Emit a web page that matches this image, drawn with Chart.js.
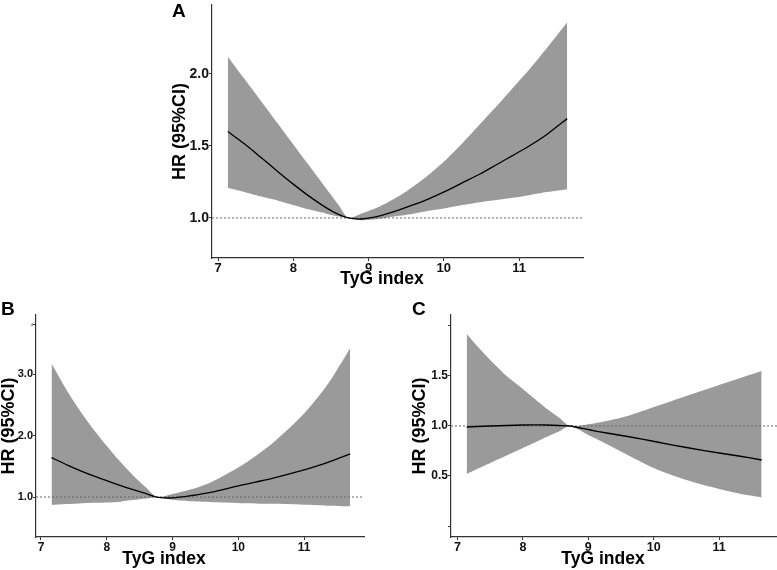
<!DOCTYPE html>
<html><head><meta charset="utf-8">
<script src="https://cdn.jsdelivr.net/npm/chart.js@4.4.1/dist/chart.umd.min.js"></script>
<style>
body{margin:0;background:#fff;width:777px;height:570px;position:relative;overflow:hidden;font-family:"Liberation Sans",Arial,sans-serif;}
canvas{position:absolute;}
.t{position:absolute;font-weight:bold;color:#000;white-space:nowrap;font-family:"Liberation Sans",Arial,sans-serif;}
.xt{font-size:17.5px;line-height:17px;transform:translateX(-50%);}
.pl{font-size:19px;line-height:19px;}
</style></head><body>
<canvas id="cA" width="450" height="305" style="left:150px;top:-10px"></canvas>
<canvas id="cB" width="390" height="280" style="left:0px;top:290px"></canvas>
<canvas id="cC" width="387" height="280" style="left:390px;top:290px"></canvas>
<div class="t pl" style="left:172px;top:1px">A</div>
<div class="t pl" style="left:1px;top:299px">B</div>
<div class="t pl" style="left:412px;top:299px">C</div>
<div class="t xt" style="left:382px;top:270px">TyG index</div>
<div class="t xt" style="left:164px;top:550px">TyG index</div>
<div class="t xt" style="left:603px;top:550px">TyG index</div>
<script>
// ---- data ----
const xTicks = [7, 8, 9, 10, 11];
const xTickLabels = ['7', '8', '9', '10', '11'];
const refHR = 1.0;
const yTitle = 'HR (95%CI)';
const xTitle = 'TyG index';

// Panel A
const aX     = [7.13, 7.35, 7.56, 7.8, 8.0, 8.2, 8.44, 8.6, 8.73, 8.9, 9.15, 9.4, 9.6, 9.8, 10.04, 10.25, 10.48, 10.7, 10.92, 11.15, 11.37, 11.64];
const aHR    = [1.60, 1.515, 1.425, 1.32, 1.235, 1.155, 1.07, 1.025, 1.00, 0.993, 1.015, 1.055, 1.092, 1.133, 1.19, 1.245, 1.305, 1.37, 1.435, 1.505, 1.58, 1.69];
const aUpper = [2.12, 1.966, 1.819, 1.651, 1.511, 1.371, 1.203, 1.091, 1.00, 1.03, 1.08, 1.15, 1.22, 1.30, 1.41, 1.52, 1.65, 1.775, 1.905, 2.04, 2.18, 2.36];
const aLower = [1.21, 1.18, 1.15, 1.12, 1.09, 1.06, 1.03, 1.01, 1.00, 0.985, 0.995, 1.015, 1.03, 1.05, 1.07, 1.09, 1.11, 1.125, 1.14, 1.16, 1.18, 1.20];
const aYTicks = [1.0, 1.5, 2.0];
const aYTickLabels = ['1.0', '1.5', '2.0'];
const aXRange = [6.92, 11.85];
const aYRange = [0.722, 2.479];

// Panel B
const bX     = [7.16, 7.4, 7.64, 7.82, 8.0, 8.2, 8.4, 8.6, 8.76, 9.0, 9.3, 9.6, 10.03, 10.5, 11.0, 11.35, 11.7];
const bHR    = [1.64, 1.52, 1.41, 1.335, 1.265, 1.19, 1.12, 1.055, 1.00, 0.985, 1.025, 1.08, 1.19, 1.30, 1.44, 1.56, 1.70];
const bUpper = [3.17, 2.72, 2.33, 2.07, 1.83, 1.58, 1.35, 1.15, 1.00, 1.05, 1.13, 1.25, 1.50, 1.86, 2.36, 2.82, 3.42];
const bLower = [0.87, 0.885, 0.90, 0.905, 0.91, 0.925, 0.95, 0.975, 1.00, 0.955, 0.93, 0.915, 0.90, 0.89, 0.875, 0.86, 0.85];
const bYTicks = [1.0, 2.0, 3.0, 3.8];
const bYTickLabels = ['1.0', '2.0', '3.0', '4'];
const bXRange = [6.924, 11.91];
const bYRange = [0.35, 3.96];

// Panel C
const cX     = [7.14, 7.3, 7.5, 7.75, 8.0, 8.2, 8.36, 8.55, 8.72, 9.03, 9.28, 9.6, 10.05, 10.5, 11.0, 11.3, 11.65];
const cHR    = [0.99, 0.995, 1.00, 1.005, 1.01, 1.012, 1.01, 1.005, 1.00, 0.96, 0.93, 0.895, 0.84, 0.785, 0.73, 0.70, 0.66];
const cUpper = [1.92, 1.80, 1.66, 1.50, 1.37, 1.26, 1.175, 1.085, 1.00, 1.02, 1.05, 1.10, 1.20, 1.30, 1.41, 1.475, 1.55];
const cLower = [0.52, 0.57, 0.63, 0.705, 0.78, 0.84, 0.89, 0.945, 1.00, 0.90, 0.82, 0.71, 0.565, 0.46, 0.37, 0.325, 0.285];
const cYTicks = [0.0, 0.5, 1.0, 1.5, 2.0];
const cYTickLabels = ['', '0.5', '1.0', '1.5', ''];
const cXRange = [6.90, 11.885];
const cYRange = [-0.11, 2.11];

// ---- drawing ----
const FONT = '"Liberation Sans", Arial, sans-serif';
const pts = (xs, ys) => xs.map((x, i) => ({x: x, y: ys[i]}));

function makePanel(id, p) {
  const xFont = {family: FONT, size: p.xf, weight: 'bold'};
  const yFont = {family: FONT, size: p.yf, weight: 'bold'};
  new Chart(document.getElementById(id), {
    type: 'line',
    data: {
      datasets: [
        {data: pts(p.x, p.hr), borderColor: '#000', borderWidth: 1.3, pointRadius: 0, fill: false, tension: 0.25, order: 0},
        {data: [{x: p.xr[0], y: refHR}, {x: p.xr[1], y: refHR}], borderColor: '#666', borderWidth: 1, borderDash: [2, 2], pointRadius: 0, fill: false, order: 1},
        {data: pts(p.x, p.lo), borderWidth: 0, borderColor: 'rgba(0,0,0,0)', pointRadius: 0, fill: false, tension: 0.25, order: 2},
        {data: pts(p.x, p.up), borderWidth: 0, borderColor: 'rgba(0,0,0,0)', backgroundColor: '#9a9a9a', pointRadius: 0, fill: '-1', tension: 0.25, order: 3}
      ]
    },
    options: {
      responsive: false, animation: false, devicePixelRatio: 1,
      layout: {padding: p.pad},
      plugins: {legend: {display: false}, tooltip: {enabled: false}, filler: {propagate: false}},
      scales: {
        x: {
          type: 'linear', min: p.xr[0], max: p.xr[1],
          afterBuildTicks: s => { s.ticks = xTicks.map(v => ({value: v})); },
          afterFit: s => { s.height = p.xh; },
          ticks: {padding: 0, color: '#111', font: xFont, maxRotation: 0, autoSkip: false,
                  callback: (v, i) => xTickLabels[i]},
          grid: {display: true, drawOnChartArea: false, drawTicks: true, tickLength: 3, color: '#333'},
          border: {display: true, color: '#333', width: 1.2},
          title: {display: false, text: xTitle}
        },
        y: {
          type: 'linear', min: p.yr[0], max: p.yr[1],
          afterBuildTicks: s => { s.ticks = p.yt.map(v => ({value: v})); },
          afterFit: s => { s.width = p.yw; },
          ticks: {padding: 0, color: '#111', autoSkip: false,
                  font: ctx => (ctx.tick && p.tiny && ctx.tick.value === p.tiny) ? {family: FONT, size: 4} : yFont,
                  callback: (v, i) => p.yl[i]},
          grid: {display: true, drawOnChartArea: false, drawTicks: true, tickLength: 3, color: '#333'},
          border: {display: true, color: '#333', width: 1.2},
          title: {display: true, text: yTitle, color: '#000',
                  font: {family: FONT, size: 18, weight: 'bold', lineHeight: p.tlh},
                  padding: {top: p.tpad, bottom: 0}}
        }
      }
    }
  });
}

makePanel('cA', {x: aX, hr: aHR, up: aUpper, lo: aLower, xr: aXRange, yr: aYRange, yt: aYTicks, yl: aYTickLabels,
  pad: {left: 0, right: 17, top: 15, bottom: 0}, xh: 37, yw: 62, tlh: 1.2, tpad: 19, xf: 13, yf: 14});
makePanel('cB', {x: bX, hr: bHR, up: bUpper, lo: bLower, xr: bXRange, yr: bYRange, yt: bYTicks, yl: bYTickLabels,
  pad: {left: 0, right: 26, top: 25, bottom: 0}, xh: 33, yw: 36, tlh: 1.0, tpad: 0, tiny: 3.8, xf: 12, yf: 11});
makePanel('cC', {x: cX, hr: cHR, up: cUpper, lo: cLower, xr: cXRange, yr: cYRange, yt: cYTicks, yl: cYTickLabels,
  pad: {left: 0, right: 0, top: 25, bottom: 0}, xh: 33, yw: 61, tlh: 1.2, tpad: 19, xf: 12.5, yf: 12});
</script>
</body></html>
